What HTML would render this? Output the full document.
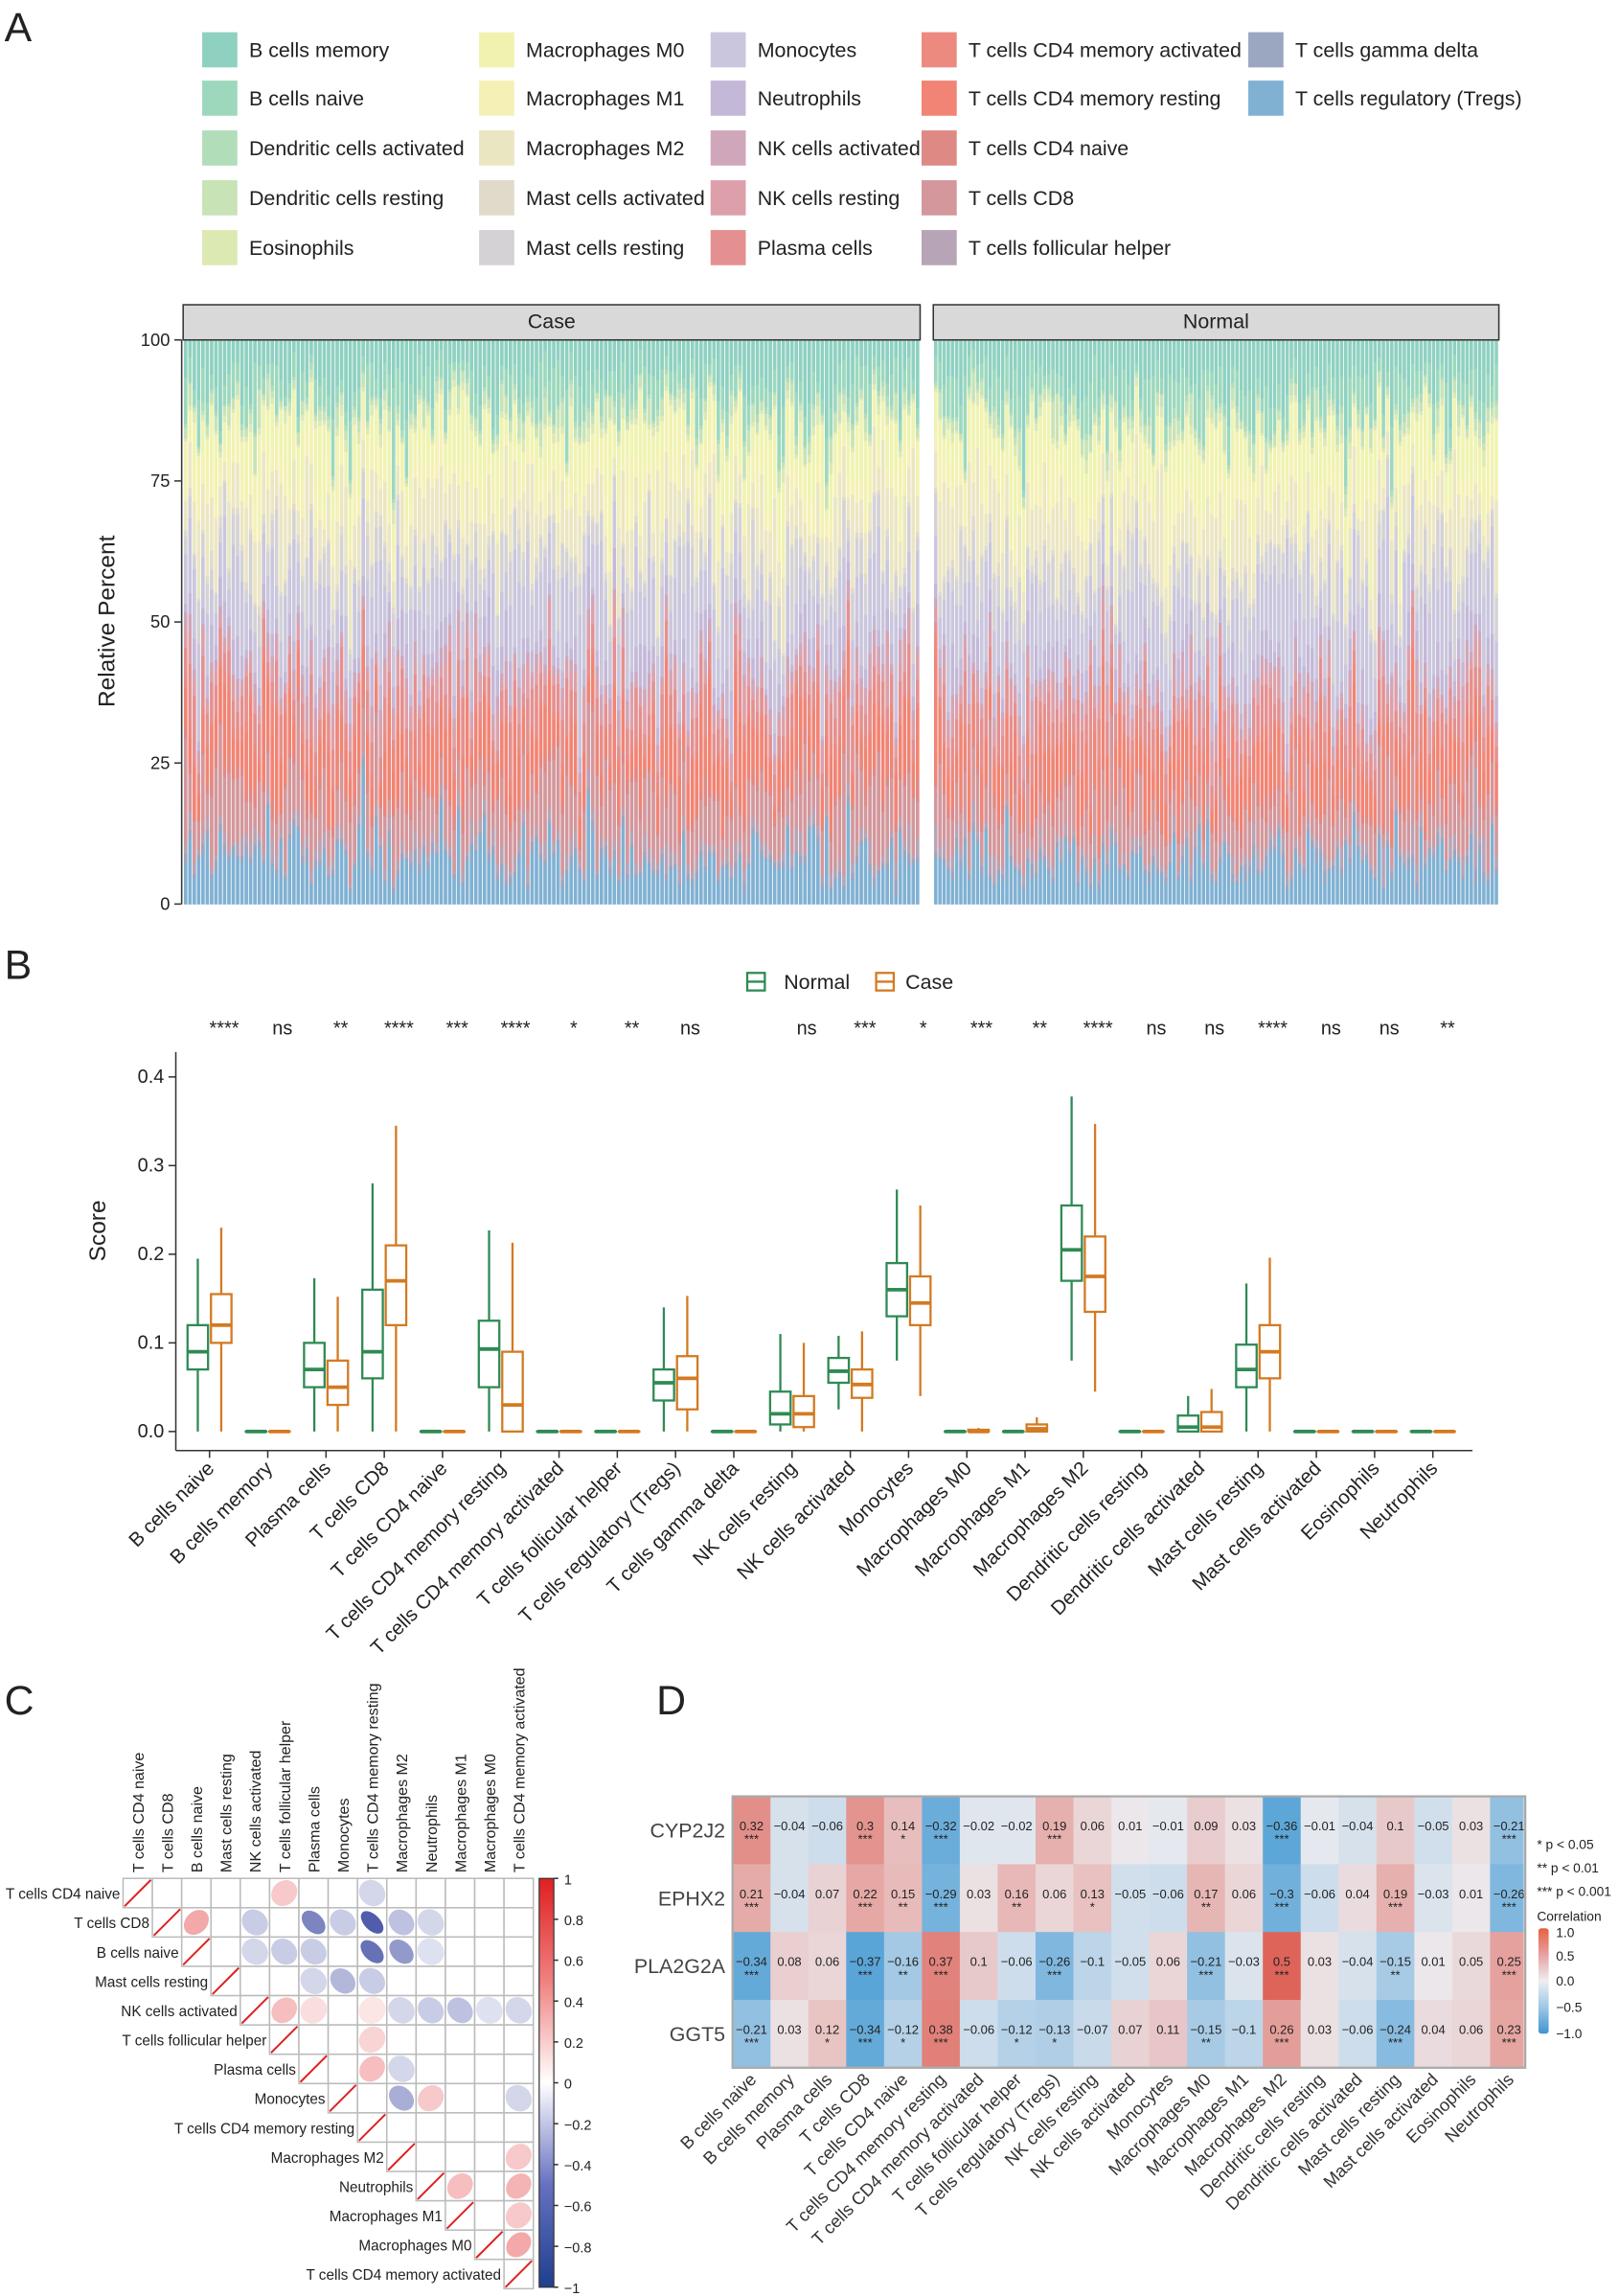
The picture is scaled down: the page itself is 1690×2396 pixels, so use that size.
<!DOCTYPE html>
<html><head><meta charset="utf-8"><style>
html,body{margin:0;padding:0;background:#fff;}
svg{display:block;font-family:"Liberation Sans","DejaVu Sans",sans-serif;}
</style></head><body>
<svg id="s" xmlns="http://www.w3.org/2000/svg" width="1690" height="2396" viewBox="0 0 1105 1567" preserveAspectRatio="none">
<rect width="1105" height="1567" fill="#fff"/>
<g id="g"></g>
</svg>
<script>
const NS="http://www.w3.org/2000/svg";const G=document.getElementById('g');
function el(t,a,txt,p){const e=document.createElementNS(NS,t);for(const k in a)e.setAttribute(k,a[k]);if(txt!==undefined)e.textContent=txt;(p||G).appendChild(e);return e;}
function T(x,y,s,size,opt){opt=opt||{};const a={x:x,y:y,'font-size':size,fill:opt.fill||'#222'};if(opt.anchor)a['text-anchor']=opt.anchor;if(opt.rot!==undefined)a.transform=`rotate(${opt.rot} ${x} ${y})`;if(opt.fw)a['font-weight']=opt.fw;return el('text',a,s);}
let seed=12345;function rnd(){seed=(seed*1103515245+12345)%2147483648;return seed/2147483648;}
function gauss(){let u=rnd()||1e-9,v=rnd();return Math.sqrt(-2*Math.log(u))*Math.cos(2*Math.PI*v);}
T(3,28,'A',28);T(3,668,'B',28);T(3,1170,'C',28);T(448,1170,'D',28);
const cols={ 'B cells memory':'#8fd1c1','B cells naive':'#9dd8bd','Dendritic cells activated':'#b2ddb9','Dendritic cells resting':'#c8e3b6','Eosinophils':'#dde9b3',
'Macrophages M0':'#f0f3b0','Macrophages M1':'#f5f1b6','Macrophages M2':'#ebe6c2','Mast cells activated':'#e0dacb','Mast cells resting':'#d4d2d4',
'Monocytes':'#cac6dd','Neutrophils':'#c4b8d8','NK cells activated':'#cfa6ba','NK cells resting':'#dda0aa','Plasma cells':'#e49090',
'T cells CD4 memory activated':'#ec8a80','T cells CD4 memory resting':'#f18474','T cells CD4 naive':'#df8985','T cells CD8':'#d3979c','T cells follicular helper':'#b7a4b6',
'T cells gamma delta':'#9ba6c0','T cells regulatory (Tregs)':'#80b1d3'};
const legCols=[[138,['B cells memory','B cells naive','Dendritic cells activated','Dendritic cells resting','Eosinophils']],
[327,['Macrophages M0','Macrophages M1','Macrophages M2','Mast cells activated','Mast cells resting']],
[485,['Monocytes','Neutrophils','NK cells activated','NK cells resting','Plasma cells']],
[629,['T cells CD4 memory activated','T cells CD4 memory resting','T cells CD4 naive','T cells CD8','T cells follicular helper']],
[852,['T cells gamma delta','T cells regulatory (Tregs)']]];
const ly=[34,67,101,135,169];
legCols.forEach(([x,arr])=>arr.forEach((n,i)=>{el('rect',{x:x,y:ly[i]-12,width:24,height:24,fill:cols[n]});T(x+32,ly[i]+5,n,14);}));
const order=[['T cells regulatory (Tregs)',8],['T cells gamma delta',1],['T cells follicular helper',2],['T cells CD8',9],['T cells CD4 naive',1.5],['T cells CD4 memory resting',8],['T cells CD4 memory activated',1.5],['Plasma cells',5],['NK cells resting',3],['NK cells activated',2],['Neutrophils',4],['Monocytes',11],['Mast cells resting',5],['Mast cells activated',1],['Macrophages M2',9],['Macrophages M1',4],['Macrophages M0',8],['Eosinophils',1],['Dendritic cells resting',2],['Dendritic cells activated',0.7],['B cells naive',5],['B cells memory',7]];
const y0=617,y100=232;
function bars(x0,x1,n,normal){const w=(x1-x0)/n;for(let b=0;b<n;b++){let f=order.map(([nm,v],i)=>{let m=v*Math.exp(gauss()*0.5);if(normal&&nm=='T cells CD8')m*=0.8;return m;});const s=f.reduce((a,c)=>a+c,0);let acc=0;f.forEach((v,i)=>{const h=v/s*(y0-y100);el('rect',{x:(x0+b*w).toFixed(2),y:(y0-acc-h).toFixed(2),width:(w*0.82).toFixed(2),height:(h+0.3).toFixed(2),fill:cols[order[i][0]]});acc+=h;});}}
bars(125.5,628,170,false);bars(637.5,1023,135,true);
[[125,628,'Case'],[637,1023,'Normal']].forEach(([a,b,t])=>{el('rect',{x:a,y:208,width:b-a,height:24,fill:'#d9d9d9',stroke:'#333','stroke-width':1});T((a+b)/2,224,t,14,{anchor:'middle'});});
el('line',{x1:124,y1:232,x2:124,y2:617,stroke:'#333'});
[0,25,50,75,100].forEach(v=>{const y=y0-v/100*(y0-y100);el('line',{x1:119,y1:y,x2:124,y2:y,stroke:'#333'});T(116,y+4,String(v),12,{anchor:'end'});});
T(78,424,'Relative Percent',16,{anchor:'middle',rot:-90});
// Panel B
const GN='#2f8a55',OR='#d37a22';
el('rect',{x:510,y:664,width:12,height:12,fill:'none',stroke:GN,'stroke-width':1.5});el('line',{x1:510,y1:670,x2:522,y2:670,stroke:GN,'stroke-width':1.5});T(535,675,'Normal',14);
el('rect',{x:598,y:664,width:12,height:12,fill:'none',stroke:OR,'stroke-width':1.5});el('line',{x1:598,y1:670,x2:610,y2:670,stroke:OR,'stroke-width':1.5});T(618,675,'Case',14);
const bz=977,sc=605;
el('line',{x1:120,y1:718,x2:120,y2:990,stroke:'#333'});el('line',{x1:120,y1:990,x2:1005,y2:990,stroke:'#333'});
[0,0.1,0.2,0.3,0.4].forEach(v=>{const y=bz-v*sc;el('line',{x1:115,y1:y,x2:120,y2:y,stroke:'#333'});T(112,y+4,v.toFixed(1),13,{anchor:'end'});});
T(72,840,'Score',16,{anchor:'middle',rot:-90});
const cats=['B cells naive','B cells memory','Plasma cells','T cells CD8','T cells CD4 naive','T cells CD4 memory resting','T cells CD4 memory activated','T cells follicular helper','T cells regulatory (Tregs)','T cells gamma delta','NK cells resting','NK cells activated','Monocytes','Macrophages M0','Macrophages M1','Macrophages M2','Dendritic cells resting','Dendritic cells activated','Mast cells resting','Mast cells activated','Eosinophils','Neutrophils'];
const sig=['****','ns','**','****','***','****','*','**','ns','','ns','***','*','***','**','****','ns','ns','****','ns','ns','**'];
const Z=[0,0,0,0,0];
const bd={0:[[0,.07,.09,.12,.195],[0,.10,.12,.155,.23]],2:[[0,.05,.07,.10,.173],[0,.03,.05,.08,.152]],3:[[0,.06,.09,.16,.28],[0,.12,.17,.21,.345]],5:[[0,.05,.093,.125,.227],[0,0,.03,.09,.213]],8:[[0,.035,.055,.07,.14],[0,.025,.06,.085,.153]],10:[[0,.008,.02,.045,.11],[0,.005,.02,.04,.10]],11:[[.025,.055,.068,.083,.108],[0,.038,.053,.07,.113]],12:[[.08,.13,.16,.19,.273],[.04,.12,.145,.175,.255]],13:[Z,[0,0,0,.002,.004]],14:[Z,[0,0,.003,.008,.016]],15:[[.08,.17,.205,.255,.378],[.045,.135,.175,.22,.347]],17:[[0,0,.005,.018,.04],[0,0,.005,.022,.048]],18:[[0,.05,.07,.098,.167],[0,.06,.09,.12,.196]]};
function box(cx,d,c){const Y=v=>bz-v*sc;const hw=7;el('line',{x1:cx,y1:Y(d[0]),x2:cx,y2:Y(d[1]),stroke:c,'stroke-width':1.5});el('line',{x1:cx,y1:Y(d[3]),x2:cx,y2:Y(d[4]),stroke:c,'stroke-width':1.5});
el('rect',{x:cx-hw,y:Y(d[3]),width:2*hw,height:Math.max(Y(d[1])-Y(d[3]),0.1),fill:'#fff',stroke:c,'stroke-width':1.5});el('line',{x1:cx-hw,y1:Y(d[2]),x2:cx+hw,y2:Y(d[2]),stroke:c,'stroke-width':2.5});}
cats.forEach((n,i)=>{const c=143+i*39.76;const d=bd[i]||[Z,Z];box(c-8,d[0],GN);box(c+8,d[1],OR);
el('line',{x1:c,y1:990,x2:c,y2:995,stroke:'#333'});T(c+4,1003,n,13.5,{anchor:'end',rot:-45});
if(sig[i])T(c+10,706,sig[i],13,{anchor:'middle'});});
// Panel C
const cl=['T cells CD4 naive','T cells CD8','B cells naive','Mast cells resting','NK cells activated','T cells follicular helper','Plasma cells','Monocytes','T cells CD4 memory resting','Macrophages M2','Neutrophils','Macrophages M1','Macrophages M0','T cells CD4 memory activated'];
const gx=84,gy=1282,cs=20;
function ccol(r){if(r>=0){const t=r;return `rgb(${Math.round(255-t*(255-224))},${Math.round(255-t*(255-38))},${Math.round(255-t*(255-42))})`;}const t=-r;return `rgb(${Math.round(255-t*(255-38))},${Math.round(255-t*(255-52))},${Math.round(255-t*(255-150))})`;}
for(let i=0;i<14;i++){for(let j=i;j<14;j++){el('rect',{x:gx+j*cs,y:gy+i*cs,width:cs,height:cs,fill:'#fff',stroke:'#bbb','stroke-width':1});}
T(gx+i*cs-2,gy+i*cs+14,cl[i],10,{anchor:'end'});T(gx+i*cs+14,gy-4,cl[i],10.5,{rot:-90});}
const cv={0:{5:.25,8:-.2},1:{2:.4,4:-.25,6:-.6,7:-.25,8:-.8,9:-.3,10:-.2},2:{4:-.2,5:-.25,6:-.25,8:-.7,9:-.5,10:-.15},3:{6:-.2,7:-.35,8:-.25},4:{5:.3,6:.15,8:.12,9:-.2,10:-.25,11:-.3,12:-.15,13:-.2},5:{8:.2},6:{8:.3,9:-.2},7:{9:-.4,10:.25,13:-.2},9:{13:.25},10:{11:.3,13:.35},11:{13:.25},12:{13:.4}};
for(const i in cv)for(const j in cv[i]){const r=cv[i][j];const cx=gx+j*cs+cs/2,cy=gy+i*cs+cs/2;el('ellipse',{cx:cx,cy:cy,rx:9.5,ry:9.5*(1-Math.abs(r)*0.55),fill:ccol(r),transform:`rotate(${r>0?-45:45} ${cx} ${cy})`});}
for(let i=0;i<14;i++){const x=gx+i*cs,y=gy+i*cs;el('line',{x1:x+1,y1:y+cs-1,x2:x+cs-1,y2:y+1,stroke:'#e02020','stroke-width':1.3});}
const grad=el('linearGradient',{id:'cg',x1:0,y1:1,x2:0,y2:0},undefined,el('defs',{}));
[[0,'#1f3f8f'],[0.25,'#6670c0'],[0.5,'#ffffff'],[0.75,'#f08080'],[1,'#e01f20']].forEach(([o,c])=>el('stop',{offset:o,'stop-color':c},undefined,grad));
el('rect',{x:368,y:1282,width:10,height:279,fill:'url(#cg)',stroke:'#333','stroke-width':0.8});
[1,0.8,0.6,0.4,0.2,0,-0.2,-0.4,-0.6,-0.8,-1].forEach(v=>{const y=1282+(1-v)/2*279;el('line',{x1:378,y1:y,x2:381,y2:y,stroke:'#333'});T(385,y+4,v===0?'0':String(v).replace('-','\u2212'),9.5);});
// Panel D
const dcols=['B cells naive','B cells memory','Plasma cells','T cells CD8','T cells CD4 naive','T cells CD4 memory resting','T cells CD4 memory activated','T cells follicular helper','T cells regulatory (Tregs)','NK cells resting','NK cells activated','Monocytes','Macrophages M0','Macrophages M1','Macrophages M2','Dendritic cells resting','Dendritic cells activated','Mast cells resting','Mast cells activated','Eosinophils','Neutrophils'];
const rows=['CYP2J2','EPHX2','PLA2G2A','GGT5'];
const vals=[[.32,-.04,-.06,.3,.14,-.32,-.02,-.02,.19,.06,.01,-.01,.09,.03,-.36,-.01,-.04,.1,-.05,.03,-.21],
[.21,-.04,.07,.22,.15,-.29,.03,.16,.06,.13,-.05,-.06,.17,.06,-.3,-.06,.04,.19,-.03,.01,-.26],
[-.34,.08,.06,-.37,-.16,.37,.1,-.06,-.26,-.1,-.05,.06,-.21,-.03,.5,.03,-.04,-.15,.01,.05,.25],
[-.21,.03,.12,-.34,-.12,.38,-.06,-.12,-.13,-.07,.07,.11,-.15,-.1,.26,.03,-.06,-.24,.04,.06,.23]];
const stars=[{0:3,3:3,4:1,5:3,8:3,14:3,20:3},{0:3,3:3,4:2,5:3,7:2,9:1,12:2,14:3,17:3,20:3},{0:3,3:3,4:2,5:3,8:3,12:3,14:3,17:2,20:3},{0:3,2:1,3:3,4:1,5:3,7:1,8:1,12:2,14:3,17:3,20:3}];
function hcol(r){const base=[236,236,240];let e,t;if(r>=0){e=[222,100,90];t=Math.min(1,r/0.5);}else{e=[80,160,214];t=Math.min(1,-r/0.4);}t=Math.pow(t,0.85);return `rgb(${base.map((b,k)=>Math.round(b+(e[k]-b)*t)).join(',')})`;}
const hx=500,hy=1226,hw=25.85,hh=46.3;
const cp=el('clipPath',{id:'hc'},undefined,el('defs',{}));el('rect',{x:hx,y:hy,width:540,height:4*hh},undefined,cp);
const hg=el('g',{'clip-path':'url(#hc)'});
rows.forEach((rn,i)=>{T(hx-5,hy+i*hh+hh/2+5,rn,14,{anchor:'end',fill:'#444'});
vals[i].forEach((v,j)=>{const x=hx+j*hw,y=hy+i*hh;el('rect',{x:x,y:y,width:hw+0.3,height:hh+0.3,fill:hcol(v)},undefined,hg);
const lab=(v<0?'\u2212':'')+String(Math.abs(v));
el('text',{x:x+hw/2,y:y+hh/2,'font-size':8.5,'text-anchor':'middle',fill:'#222'},lab,hg);
if(stars[i][j])el('text',{x:x+hw/2,y:y+hh/2+9,'font-size':8.5,'text-anchor':'middle',fill:'#222'},'*'.repeat(stars[i][j]),hg);});});
el('rect',{x:hx,y:hy,width:541,height:4*hh,fill:'none',stroke:'#aaa','stroke-width':1.5});
dcols.forEach((n,j)=>{T(hx+j*hw+hw/2+4,1420,n,12,{anchor:'end',rot:-45,fill:'#333'});});
T(1049,1262,'*   p < 0.05',9);T(1049,1278,'**  p < 0.01',9);T(1049,1294,'*** p < 0.001',9);T(1049,1311,'Correlation',9);
const g2=el('linearGradient',{id:'hg2',x1:0,y1:0,x2:0,y2:1},undefined,el('defs',{}));
[[0,'#e8603f'],[0.25,'#e8a0a0'],[0.5,'#eeeef0'],[0.75,'#9cc8e6'],[1,'#3f94d2']].forEach(([o,c])=>el('stop',{offset:o,'stop-color':c},undefined,g2));
el('rect',{x:1050,y:1316,width:7,height:72,fill:'url(#hg2)',rx:2});
[['1.0',1319],['0.5',1335],['0.0',1352],['\u22120.5',1370],['\u22121.0',1388]].forEach(([s,y])=>T(1062,y+3,s,9));
</script>
</body></html>
